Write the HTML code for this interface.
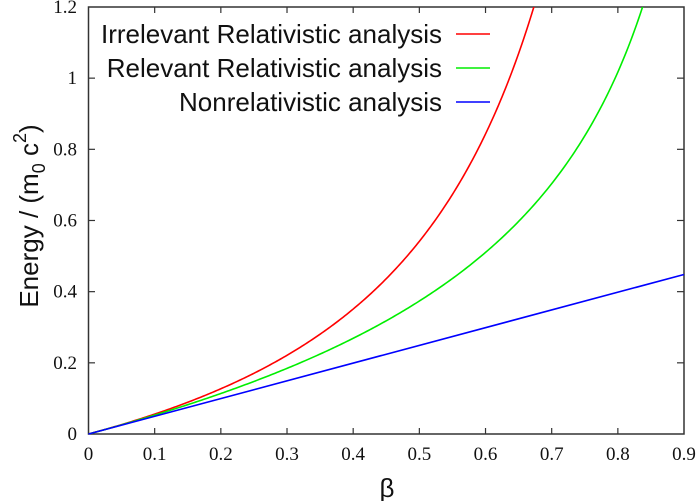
<!DOCTYPE html>
<html><head><style>
body{margin:0;background:#fff}
svg{display:block}
.t{font-family:"Liberation Serif",serif;font-size:19px;fill:#111}
.l{font-family:"Liberation Sans",sans-serif;font-size:26px;fill:#111}
</style></head><body>
<svg id="s" width="700" height="501" viewBox="0 0 700 501" xmlns="http://www.w3.org/2000/svg">
<defs><clipPath id="c"><rect x="88.5" y="7" width="595.5" height="427"/></clipPath></defs>
<g id="ticks" stroke="#333" stroke-width="1.2"></g>
<rect x="88.5" y="7" width="595.5" height="427" fill="none" stroke="#333" stroke-width="1.5"/>
<g id="labels"></g>
<g clip-path="url(#c)">
<path id="red" fill="none" stroke="#f00" stroke-width="1.6"/>
<path id="green" fill="none" stroke="#0e0" stroke-width="1.6"/>
</g>
<line x1="88.5" y1="434" x2="684" y2="274.5" stroke="#00f" stroke-width="1.6"/>
<text class="l" x="442" y="43" text-anchor="end">Irrelevant Relativistic analysis</text>
<text class="l" x="442" y="77" text-anchor="end">Relevant Relativistic analysis</text>
<text class="l" x="442" y="111" text-anchor="end">Nonrelativistic analysis</text>
<line x1="456" y1="34" x2="490" y2="34" stroke="#f00" stroke-width="1.6"/>
<line x1="456" y1="68" x2="490" y2="68" stroke="#0e0" stroke-width="1.6"/>
<line x1="456" y1="102" x2="490" y2="102" stroke="#00f" stroke-width="1.6"/>
<text class="l" transform="translate(38,216) rotate(-90)" text-anchor="middle">Energy / (m<tspan font-size="18" dy="7">0</tspan><tspan dy="-7"> c</tspan><tspan font-size="18" dy="-12">2</tspan><tspan dy="12">)</tspan></text>
<text class="l" x="387" y="497" text-anchor="middle">β</text>
</svg>
<script>
var NS="http://www.w3.org/2000/svg";
function el(p,n,a,t){var e=document.createElementNS(NS,n);for(var k in a)e.setAttribute(k,a[k]);if(t!=null)e.textContent=t;p.appendChild(e);}
var T=document.getElementById('ticks'),L=document.getElementById('labels');
for(var i=0;i<=9;i++){var x=88.5+i*66.17;
 if(i>0&&i<9){el(T,'line',{x1:x,y1:434,x2:x,y2:428});el(T,'line',{x1:x,y1:7,x2:x,y2:13});}
 el(L,'text',{'class':'t',x:x,y:460,'text-anchor':'middle'},i==0?'0':(i/10).toString());}
for(var j=0;j<=6;j++){var y=434-j*71.17;
 if(j>0&&j<6){el(T,'line',{x1:88.5,y1:y,x2:95,y2:y});el(T,'line',{x1:684,y1:y,x2:677,y2:y});}
 el(L,'text',{'class':'t',x:77,y:y+6,'text-anchor':'end'},j==0?'0':(j*0.2).toFixed(1).replace(/\.0$/,''));}
function path(f,bmax){var d='';for(var k=0;k<=300;k++){var b=bmax*k/300,E=f(b);var x=88.5+b*661.7,y=434-E*355.8;d+=(k?'L':'M')+x.toFixed(2)+','+y.toFixed(2);if(y<0)break;}return d;}
document.getElementById('red').setAttribute('d',path(function(b){return b/(2*Math.pow(1-b,1.05+0.13*b));},0.75));
document.getElementById('green').setAttribute('d',path(function(b){return b/(2*Math.pow(1-b,0.58));},0.9));
</script>
</body></html>
